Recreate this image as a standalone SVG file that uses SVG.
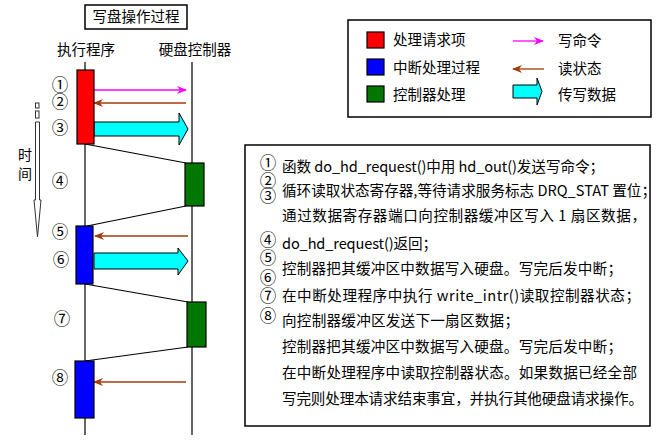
<svg xmlns="http://www.w3.org/2000/svg" width="662" height="442" viewBox="0 0 662 442">
<style>
text{font-family:"Noto Sans CJK SC","Liberation Sans",sans-serif;fill:#000}
.t{font-size:14.5px}
.c{font-size:14px}
.n{font-family:"Noto Sans CJK SC","DejaVu Sans",sans-serif;font-size:16.5px;fill:#000}
.b{font-size:14.6px}
.line{stroke:#000;stroke-width:1.2;fill:none}
.box{stroke:#000;stroke-width:1.2}
.frame{fill:#fff;stroke:#000;stroke-width:1.5}
.blk{fill:#00ffff;stroke:#000;stroke-width:1}
</style>
<defs>
<marker id="mM" markerWidth="10" markerHeight="8" refX="9" refY="4" orient="auto" markerUnits="userSpaceOnUse">
<path d="M0,0 L10,4 L0,8 L3,4 z" fill="#ff00ff"/>
</marker>
<marker id="mB" markerWidth="10" markerHeight="8" refX="9" refY="4" orient="auto" markerUnits="userSpaceOnUse">
<path d="M0,0 L10,4 L0,8 L3,4 z" fill="#a33a0a"/>
</marker>
</defs>
<rect width="662" height="442" fill="#fff"/>

<g id="title">
<rect x="85" y="5" width="102" height="24" class="frame"/>
<text x="136" y="22" class="t" text-anchor="middle">写盘操作过程</text>
</g>

<g id="lifeline-cpu">
<text x="86" y="55" class="t" text-anchor="middle">执行程序</text>
<line x1="85" y1="62" x2="85" y2="435" class="line"/>
</g>
<g id="lifeline-hd">
<text x="195" y="55" class="t" text-anchor="middle">硬盘控制器</text>
<line x1="192" y1="62" x2="192" y2="435" class="line"/>
</g>

<g id="time-axis">
<rect x="35.5" y="103" width="3.5" height="5" fill="#fff" stroke="#333" stroke-width="1"/>
<rect x="35.5" y="111" width="3.5" height="7" fill="#fff" stroke="#333" stroke-width="1"/>
<polygon points="35.5,122 39.5,122 39.5,200 41,200 37.5,237 34,200 35.5,200" fill="#fff" stroke="#333" stroke-width="1"/>
<text x="25" y="160" class="c" text-anchor="middle">时</text>
<text x="25" y="179" class="c" text-anchor="middle">间</text>
</g>

<g id="connectors">
<line x1="85" y1="144" x2="186" y2="163" class="line"/>
<line x1="186" y1="206" x2="87" y2="226" class="line"/>
<line x1="85" y1="284" x2="188" y2="302" class="line"/>
<line x1="188" y1="347" x2="85" y2="361" class="line"/>
<line x1="94" y1="90" x2="186" y2="90" stroke="#ff00ff" stroke-width="1.3" marker-end="url(#mM)"/>
<line x1="186" y1="103" x2="94" y2="103" stroke="#a33a0a" stroke-width="1.3" marker-end="url(#mB)"/>
<path d="M94,122 H179 V113 L188,129 L179,145 V136 H94 Z" class="blk"/>
<line x1="188" y1="236" x2="95" y2="236" stroke="#a33a0a" stroke-width="1.3" marker-end="url(#mB)"/>
<path d="M94,253 H178 V248 L188,261 L178,275 V269 H94 Z" class="blk"/>
<line x1="186" y1="382" x2="94" y2="382" stroke="#a33a0a" stroke-width="1.3" marker-end="url(#mB)"/>
</g>

<g id="req">
<rect x="77" y="70" width="17" height="74" fill="#ff0000" class="box"/>
</g>
<g id="ctrl1">
<rect x="185" y="163" width="19" height="43" fill="#007700" class="box"/>
</g>
<g id="intr1">
<rect x="76" y="226" width="17" height="58" fill="#0000ff" class="box"/>
</g>
<g id="ctrl2">
<rect x="187" y="302" width="19" height="45" fill="#007700" class="box"/>
</g>
<g id="intr2">
<rect x="75" y="361" width="19" height="57" fill="#0000ff" class="box"/>
</g>

<g id="step-numbers">
<text x="60" y="91" class="n" text-anchor="middle">①</text>
<text x="60" y="108" class="n" text-anchor="middle">②</text>
<text x="60" y="134" class="n" text-anchor="middle">③</text>
<text x="60" y="187" class="n" text-anchor="middle">④</text>
<text x="60" y="238" class="n" text-anchor="middle">⑤</text>
<text x="61" y="266" class="n" text-anchor="middle">⑥</text>
<text x="62" y="325" class="n" text-anchor="middle">⑦</text>
<text x="60" y="384" class="n" text-anchor="middle">⑧</text>
</g>

<g id="legend">
<rect x="348" y="20" width="303" height="97" class="frame"/>
<rect x="367" y="32" width="17" height="16" fill="#ff0000" class="box"/>
<rect x="367" y="59" width="17" height="16" fill="#0000ff" class="box"/>
<rect x="367" y="86" width="17" height="16" fill="#007700" class="box"/>
<text x="393" y="45" class="t">处理请求项</text>
<text x="393" y="73" class="t">中断处理过程</text>
<text x="393" y="100" class="t">控制器处理</text>
<line x1="513" y1="41" x2="543" y2="41" stroke="#ff00ff" stroke-width="1.3" marker-end="url(#mM)"/>
<line x1="544" y1="69" x2="513" y2="69" stroke="#a33a0a" stroke-width="1.3" marker-end="url(#mB)"/>
<path d="M513,85 H537 V78 L542,91.5 L537,105 V98 H513 Z" class="blk"/>
<text x="558" y="46" class="t">写命令</text>
<text x="558" y="74" class="t">读状态</text>
<text x="558" y="100" class="t">传写数据</text>
</g>

<g id="notes">
<rect x="245" y="145" width="405" height="281" class="frame"/>
<text x="268" y="169" class="n" text-anchor="middle">①</text>
<text x="268" y="187" class="n" text-anchor="middle">②</text>
<text x="268" y="202" class="n" text-anchor="middle">③</text>
<text x="268" y="246" class="n" text-anchor="middle">④</text>
<text x="268" y="264" class="n" text-anchor="middle">⑤</text>
<text x="268" y="284" class="n" text-anchor="middle">⑥</text>
<text x="268" y="302" class="n" text-anchor="middle">⑦</text>
<text x="268" y="322" class="n" text-anchor="middle">⑧</text>
<text x="282" y="172" class="b" textLength="322" lengthAdjust="spacing">函数 do_hd_request()中用 hd_out()发送写命令；</text>
<text x="282" y="196" class="b" textLength="374" lengthAdjust="spacing">循环读取状态寄存器,等待请求服务标志 DRQ_STAT 置位；</text>
<text x="282" y="221" class="b" textLength="364" lengthAdjust="spacing">通过数据寄存器端口向控制器缓冲区写入 1 扇区数据，</text>
<text x="282" y="249" class="b" textLength="155" lengthAdjust="spacing">do_hd_request()返回；</text>
<text x="282" y="274" class="b" textLength="340" lengthAdjust="spacing">控制器把其缓冲区中数据写入硬盘。写完后发中断；</text>
<text x="282" y="301" class="b" textLength="358" lengthAdjust="spacing">在中断处理程序中执行 write_intr()读取控制器状态；</text>
<text x="282" y="326" class="b" textLength="237" lengthAdjust="spacing">向控制器缓冲区发送下一扇区数据；</text>
<text x="282" y="352" class="b" textLength="340" lengthAdjust="spacing">控制器把其缓冲区中数据写入硬盘。写完后发中断；</text>
<text x="282" y="378" class="b" textLength="355" lengthAdjust="spacing">在中断处理程序中读取控制器状态。如果数据已经全部</text>
<text x="282" y="404" class="b" textLength="361" lengthAdjust="spacing">写完则处理本请求结束事宜，并执行其他硬盘请求操作。</text>
</g>
</svg>
